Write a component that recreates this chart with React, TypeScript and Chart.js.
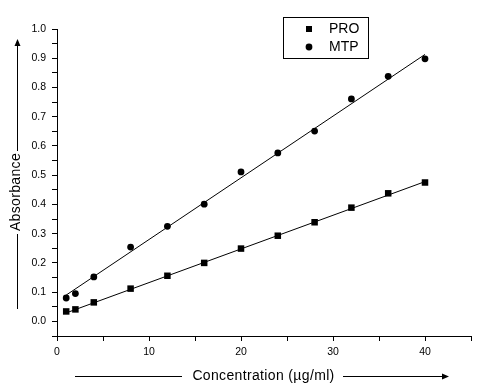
import React, { useEffect, useRef } from "react";
import { Chart, registerables } from "chart.js";

Chart.register(...registerables);

// ---- data ----
const concentrations = [1, 2, 4, 8, 12, 16, 20, 24, 28, 32, 36, 40];
const proAbsorbance = [0.034, 0.041, 0.065, 0.112, 0.156, 0.2, 0.249, 0.293, 0.339, 0.389, 0.438, 0.475];
const mtpAbsorbance = [0.08, 0.095, 0.152, 0.254, 0.325, 0.401, 0.511, 0.576, 0.651, 0.761, 0.838, 0.898];
const fitX = [1, 40];
const proFitY = [0.029, 0.478];
const mtpFitY = [0.09, 0.913];
const seriesNames = ["PRO", "MTP"];
const xAxisTitle = "Concentration (\u00b5g/ml)";
const yAxisTitle = "Absorbance";
const xTickLabels = [0, 10, 20, 30, 40];
const yTickLabels = [0, 0.1, 0.2, 0.3, 0.4, 0.5, 0.6, 0.7, 0.8, 0.9, 1.0];

const FONT = "'Liberation Sans', Arial, sans-serif";

const annotations = {
  id: "annotations",
  afterDraw(chart: any) {
    const ctx = chart.ctx as CanvasRenderingContext2D;
    ctx.save();
    ctx.fillStyle = "#000";
    ctx.strokeStyle = "#000";
    ctx.lineWidth = 1;

    // X title with arrow line
    ctx.font = `14px ${FONT}`;
    try { (ctx as any).letterSpacing = "0.35px"; } catch (e) {}
    ctx.textAlign = "center";
    ctx.textBaseline = "middle";
    ctx.fillText(xAxisTitle, 263.5, 376);
    ctx.beginPath();
    ctx.moveTo(75, 376.5);
    ctx.lineTo(182, 376.5);
    ctx.moveTo(343, 376.5);
    ctx.lineTo(444, 376.5);
    ctx.stroke();
    ctx.beginPath();
    ctx.moveTo(449, 376.5);
    ctx.lineTo(442, 373.5);
    ctx.lineTo(442, 379.5);
    ctx.closePath();
    ctx.fill();

    // Y title with arrow line
    ctx.save();
    ctx.translate(16.5, 192);
    ctx.rotate(-Math.PI / 2);
    ctx.fillText(yAxisTitle, 0, 0);
    ctx.restore();
    ctx.beginPath();
    ctx.moveTo(17.5, 45);
    ctx.lineTo(17.5, 151);
    ctx.moveTo(17.5, 234);
    ctx.lineTo(17.5, 309);
    ctx.stroke();
    ctx.beginPath();
    ctx.moveTo(17.5, 39);
    ctx.lineTo(14.5, 46);
    ctx.lineTo(20.5, 46);
    ctx.closePath();
    ctx.fill();
    try { (ctx as any).letterSpacing = "0px"; } catch (e) {}

    // Legend
    ctx.strokeRect(283.5, 17.5, 85, 41);
    ctx.font = `14px ${FONT}`;
    ctx.textAlign = "left";
    ctx.textBaseline = "middle";
    ctx.fillRect(306, 26, 6, 6);
    ctx.fillText(chart.data.datasets[0].label, 329, 29.5);
    ctx.beginPath();
    ctx.arc(309, 47, 3.4, 0, Math.PI * 2);
    ctx.fill();
    ctx.fillText(chart.data.datasets[1].label, 329, 47.5);
    ctx.restore();
  },
};

export default function App() {
  const ref = useRef<HTMLCanvasElement | null>(null);

  useEffect(() => {
    if (!ref.current) return;
    const pts = (xs: number[], ys: number[]) => xs.map((x, i) => ({ x, y: ys[i] }));
    const tickFont = { family: FONT, size: 10.5 };
    const chart = new Chart(ref.current, {
      type: "scatter",
      data: {
        datasets: [
          {
            label: seriesNames[0],
            data: pts(concentrations, proAbsorbance),
            pointStyle: "rect",
            pointRadius: 4.6,
            backgroundColor: "#000",
            borderColor: "#000",
            borderWidth: 0,
            showLine: false,
          },
          {
            label: seriesNames[1],
            data: pts(concentrations, mtpAbsorbance),
            pointStyle: "circle",
            pointRadius: 3.4,
            backgroundColor: "#000",
            borderColor: "#000",
            borderWidth: 0,
            showLine: false,
          },
          {
            label: seriesNames[0] + " fit",
            data: pts(fitX, proFitY),
            showLine: true,
            pointRadius: 0,
            borderColor: "#000",
            borderWidth: 1,
          },
          {
            label: seriesNames[1] + " fit",
            data: pts(fitX, mtpFitY),
            showLine: true,
            pointRadius: 0,
            borderColor: "#000",
            borderWidth: 1,
          },
        ],
      },
      options: {
        animation: false,
        responsive: false,
        devicePixelRatio: 1,
        layout: { padding: { left: 0, top: 29, right: 12, bottom: 0 } },
        plugins: { legend: { display: false }, tooltip: { enabled: false } },
        scales: {
          x: {
            type: "linear",
            min: 0,
            max: 45,
            afterFit: (s: any) => { s.height = 56; },
            border: { color: "#000", width: 1 },
            grid: { drawOnChartArea: false, color: "#000", tickLength: 5 },
            ticks: {
              stepSize: 5,
              autoSkip: false,
              maxRotation: 0,
              padding: 5,
              color: "#000",
              font: tickFont,
              callback: (v: any) => (xTickLabels.includes(Number(v)) ? String(v) : ""),
            },
          },
          y: {
            type: "linear",
            min: -0.05,
            max: 1.0,
            afterFit: (s: any) => { s.width = 57; },
            border: { color: "#000", width: 1 },
            grid: { drawOnChartArea: false, color: "#000", tickLength: 5 },
            ticks: {
              stepSize: 0.05,
              autoSkip: false,
              padding: 6,
              color: "#000",
              font: tickFont,
              callback: (v: any) => {
                const n = Number(v);
                const m = yTickLabels.find((t) => Math.abs(t - n) < 1e-6);
                return m === undefined ? "" : m.toFixed(1);
              },
            },
          },
        },
      },
      plugins: [annotations],
    } as any);
    return () => chart.destroy();
  }, []);

  return (
    <div style={{ position: "absolute", left: 0, top: 0, width: 483, height: 392, background: "#fff" }}>
      <canvas ref={ref} width={483} height={392} style={{ width: 483, height: 392, display: "block" }} />
    </div>
  );
}
